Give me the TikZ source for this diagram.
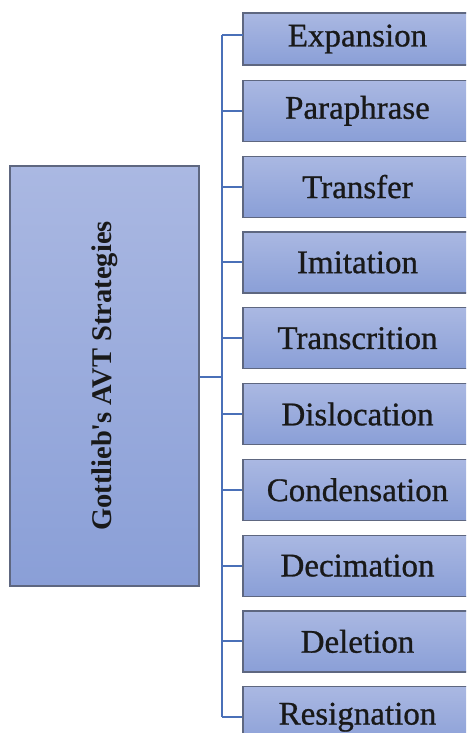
\documentclass[tikz,border=0pt]{standalone}
\usepackage{fontspec}
\setmainfont{Liberation Serif}
\newfontfamily\stratfont{Liberation Serif}[FakeBold=0.8, BoldFont={Liberation Serif}, BoldFeatures={FakeBold=0.8}]
\definecolor{boxtop}{HTML}{AAB8E2}
\definecolor{boxbot}{HTML}{8A9FD7}
\definecolor{boxline}{HTML}{5E6780}
\definecolor{connc}{HTML}{4A70B8}
\tikzset{
  stratbox/.style={draw=boxline, line width=1.2pt, top color=boxtop, bottom color=boxbot,
    minimum width=229pt, minimum height=61pt, inner sep=0pt, anchor=center,
    font=\stratfont\bfseries\fontsize{33}{36}\selectfont, text=black!90},
  mainbox/.style={draw=boxline, line width=1.4pt, top color=boxtop, bottom color=boxbot,
    minimum width=189pt, minimum height=420pt, inner sep=0pt,
    font=\fontsize{28.5}{30}\selectfont\bfseries, text=black!90},
  conn/.style={draw=connc, line width=2pt}
}
\begin{document}
\begin{tikzpicture}[x=1pt,y=-1pt]
\useasboundingbox (0,0) rectangle (466,733);
\clip (0,0) rectangle (466,733);
\fill[white] (0,0) rectangle (466,733);
\node[mainbox] (L) at (104.5,376) {\rotatebox{90}{Gottlieb\textquotesingle s AVT Strategies}};
\coordinate (t) at (222,377);
\coordinate (e1) at (243,35);
\node[stratbox, minimum height=52pt] (b1) at (357.5,39) {\raisebox{4pt}{Expansion}};
\node[stratbox] (b2) at (357.5,110.8) {Paraphrase};
\node[stratbox] (b3) at (357.5,186.6) {Transfer};
\node[stratbox] (b4) at (357.5,262.4) {Imitation};
\node[stratbox] (b5) at (357.5,338.2) {Transcrition};
\node[stratbox] (b6) at (357.5,414) {Dislocation};
\node[stratbox] (b7) at (357.5,489.8) {Condensation};
\node[stratbox] (b8) at (357.5,565.6) {Decimation};
\node[stratbox] (b9) at (357.5,641.4) {Deletion};
\node[stratbox] (b10) at (357.5,717.2) {Resignation};
\draw[conn] (L.east |- t) -- (t);
\draw[conn] (e1 -| t) -- (b10.west -| t);
\draw[conn] (e1 -| t) -- (e1);
\foreach \i in {2,...,10} { \draw[conn] (b\i.west -| t) -- (b\i.west); }
\end{tikzpicture}
\end{document}
